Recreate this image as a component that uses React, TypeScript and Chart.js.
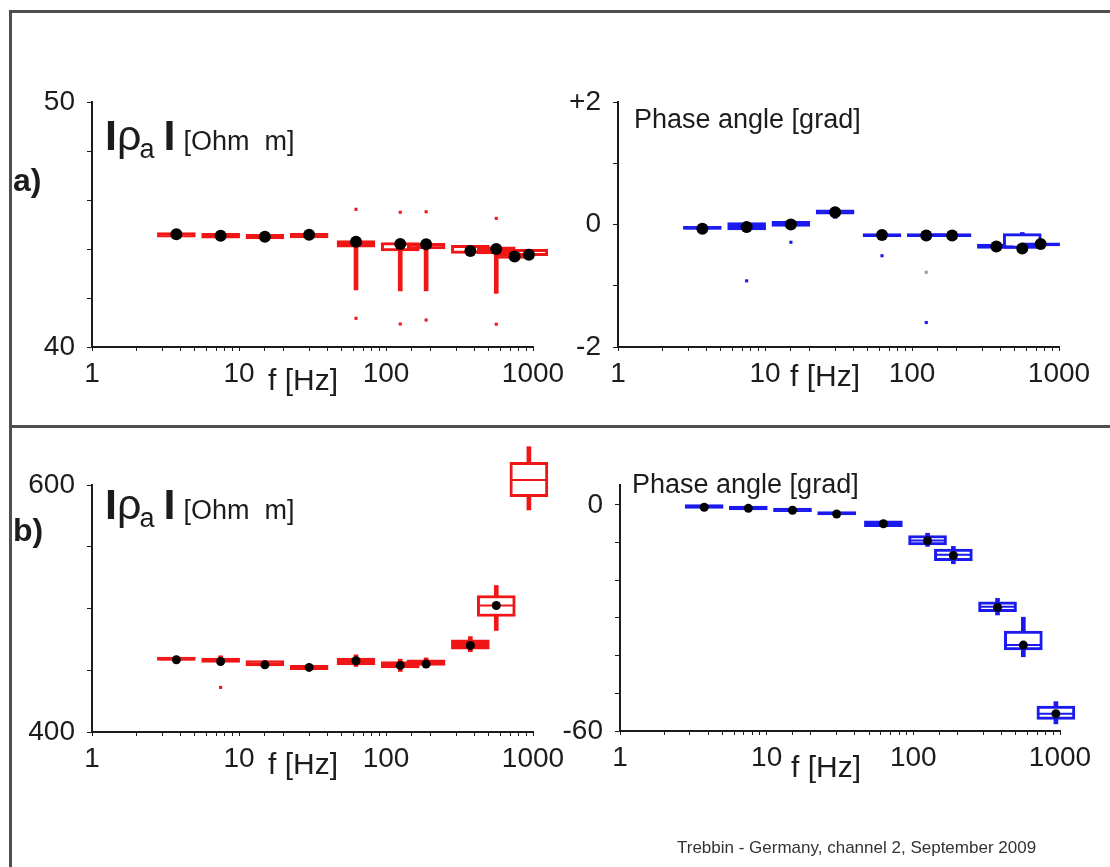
import React, { useEffect, useRef } from 'react';
import { Chart, registerables } from 'chart.js';

Chart.register(...registerables);

const W = 1110;
const H = 867;
const FONT = '"Liberation Sans", Arial, Helvetica, sans-serif';
const RED = '#f01616';
const BLUE = '#1a1aee';
const GREY = '#9a9a9a';
const INK = '#1c1c1c';
const FRAME = '#4f4f4f';

// ---- shared axis labels ----
const xTickLabels = [1, 10, 100, 1000];

// ---- a) apparent resistivity |rho_a| [Ohm m] ----
const rhoA_f = [3.75, 7.5, 15, 30, 62.5, 125, 187.5, 375, 562.5, 750, 937.5];
const rhoA_mean = [44.6, 44.54, 44.5, 44.58, 44.3, 44.2, 44.19, 43.92, 44.0, 43.69, 43.77];
const rhoA_median = [44.6, 44.55, 44.5, 44.58, 44.25, 44.2, 44.15, 44.08, 44.0, 43.72, 43.93];
const rhoA_q1 = [44.48, 44.44, 44.41, 44.45, 44.07, 43.92, 44.0, 43.82, 43.8, 43.62, 43.73];
const rhoA_q3 = [44.67, 44.64, 44.6, 44.64, 44.34, 44.26, 44.23, 44.15, 44.09, 43.8, 43.99];
const rhoA_wLo = [44.48, 44.44, 44.41, 44.45, 42.33, 42.29, 42.29, 43.82, 42.19, 43.62, 43.73];
const rhoA_wHi = [44.67, 44.64, 44.6, 44.64, 44.34, 44.26, 44.23, 44.15, 44.09, 43.8, 43.99];
const rhoA_open = [false, false, false, false, false, true, false, true, false, false, true];
const rhoA_outF = [62.5, 62.5, 125, 125, 187.5, 187.5, 562.5, 562.5];
const rhoA_outV = [45.62, 41.17, 45.5, 40.94, 45.52, 41.1, 45.25, 40.93];
const rhoA_yLabels: Record<string, string> = { '40': '40', '50': '50' };

// ---- a) phase angle [grad] ----
const phA_f = [3.75, 7.5, 15, 30, 62.5, 125, 187.5, 375, 562.5, 750];
const phA_mean = [-0.07, -0.04, 0.0, 0.2, -0.17, -0.18, -0.18, -0.36, -0.39, -0.32];
const phA_median = [-0.06, -0.03, 0.01, 0.2, -0.17, -0.17, -0.17, -0.36, -0.37, -0.32];
const phA_q1 = [-0.08, -0.09, -0.03, 0.17, -0.2, -0.2, -0.2, -0.39, -0.39, -0.35];
const phA_q3 = [-0.03, 0.03, 0.05, 0.24, -0.15, -0.15, -0.15, -0.32, -0.15, -0.3];
const phA_wLo = [-0.08, -0.12, -0.03, 0.1, -0.2, -0.2, -0.2, -0.39, -0.39, -0.35];
const phA_wHi = [-0.03, 0.03, 0.05, 0.24, -0.15, -0.15, -0.15, -0.32, -0.13, -0.3];
const phA_open = [false, false, false, false, false, false, false, false, true, false];
const phA_outF = [7.5, 15, 62.5, 125, 125, 562.5];
const phA_outV = [-0.92, -0.29, -0.51, -1.6, -0.78, -0.27];
const phA_outGrey = [false, false, false, false, true, true];
const phA_yLabels: Record<string, string> = { '2': '+2', '0': '0', '-2': '-2' };

// ---- b) apparent resistivity |rho_a| [Ohm m] ----
const rhoB_f = [3.75, 7.5, 15, 30, 62.5, 125, 187.5, 375, 562.5, 937.5];
const rhoB_mean = [458.5, 457.1, 454.4, 452.3, 457.7, 453.9, 455.0, 470.0, 502.4, 604.0];
const rhoB_median = [459.0, 458.0, 455.0, 452.0, 457.5, 454.0, 456.0, 471.0, 502.4, 604.0];
const rhoB_q1 = [457.9, 456.3, 453.6, 450.4, 454.4, 451.8, 453.9, 467.1, 493.5, 590.5];
const rhoB_q3 = [460.7, 459.9, 457.9, 453.9, 459.8, 457.1, 458.5, 474.6, 510.5, 618.4];
const rhoB_wLo = [457.9, 456.3, 453.6, 450.4, 453.0, 449.0, 453.0, 465.0, 482.2, 579.8];
const rhoB_wHi = [460.7, 461.7, 457.9, 453.9, 462.5, 459.0, 460.0, 477.3, 518.6, 631.0];
const rhoB_open = [false, false, false, false, false, false, false, false, true, true];
const rhoB_outF = [7.5];
const rhoB_outV = [436.1];
const rhoB_yLabels: Record<string, string> = { '400': '400', '600': '600' };

// ---- b) phase angle [grad] ----
const phB_f = [3.75, 7.5, 15, 30, 62.5, 125, 187.5, 375, 562.5, 937.5];
const phB_mean = [-0.6, -0.9, -1.4, -2.4, -5.0, -9.5, -13.4, -27.2, -37.2, -55.4];
const phB_median = [-0.5, -0.8, -1.3, -2.2, -5.0, -9.4, -13.2, -27.0, -37.2, -55.4];
const phB_q1 = [-0.9, -1.33, -1.77, -2.65, -5.75, -10.6, -14.8, -28.3, -38.5, -56.9];
const phB_q3 = [0.1, -0.27, -0.8, -1.77, -4.2, -8.1, -11.7, -25.7, -33.5, -53.4];
const phB_wLo = [-0.9, -1.6, -1.9, -2.65, -5.75, -11.0, -15.6, -29.2, -40.3, -58.1];
const phB_wHi = [0.1, -0.27, -0.5, -1.77, -4.2, -7.5, -11.0, -24.8, -29.8, -52.2];
const phB_open = [false, false, false, false, false, true, true, true, true, true];
const phB_outF: number[] = [];
const phB_outV: number[] = [];
const phB_yLabels: Record<string, string> = { '0': '0', '-60': '-60' };

// ---- layout of the four plot areas (pixels) ----
const Y_AXIS_W = 80;
const X_AXIS_H = 50;

type Panel = {
  id: string;
  f: number[]; mean: number[]; median: number[]; q1: number[]; q3: number[];
  wLo: number[]; wHi: number[]; open: boolean[];
  outF: number[]; outV: number[]; outGrey?: boolean[];
  color: string; dot: number;
  yMin: number; yMax: number; yStep: number; yLabels: Record<string, string>;
  area: { l: number; t: number; r: number; b: number };
};

const panels: Panel[] = [
  {
    id: 'rhoA', f: rhoA_f, mean: rhoA_mean, median: rhoA_median, q1: rhoA_q1, q3: rhoA_q3,
    wLo: rhoA_wLo, wHi: rhoA_wHi, open: rhoA_open, outF: rhoA_outF, outV: rhoA_outV,
    color: RED, dot: 6, yMin: 40, yMax: 50, yStep: 1, yLabels: rhoA_yLabels,
    area: { l: 92, t: 102, r: 533, b: 347 },
  },
  {
    id: 'phA', f: phA_f, mean: phA_mean, median: phA_median, q1: phA_q1, q3: phA_q3,
    wLo: phA_wLo, wHi: phA_wHi, open: phA_open, outF: phA_outF, outV: phA_outV, outGrey: phA_outGrey,
    color: BLUE, dot: 6, yMin: -2, yMax: 2, yStep: 1, yLabels: phA_yLabels,
    area: { l: 618, t: 102, r: 1059, b: 347 },
  },
  {
    id: 'rhoB', f: rhoB_f, mean: rhoB_mean, median: rhoB_median, q1: rhoB_q1, q3: rhoB_q3,
    wLo: rhoB_wLo, wHi: rhoB_wHi, open: rhoB_open, outF: rhoB_outF, outV: rhoB_outV,
    color: RED, dot: 4.5, yMin: 400, yMax: 600, yStep: 50, yLabels: rhoB_yLabels,
    area: { l: 92, t: 485, r: 533, b: 732 },
  },
  {
    id: 'phB', f: phB_f, mean: phB_mean, median: phB_median, q1: phB_q1, q3: phB_q3,
    wLo: phB_wLo, wHi: phB_wHi, open: phB_open, outF: phB_outF, outV: phB_outV,
    color: BLUE, dot: 4.5, yMin: -60, yMax: 5.3, yStep: 10, yLabels: phB_yLabels,
    area: { l: 620, t: 485, r: 1060, b: 731 },
  },
];

function buildConfig(p: Panel): any {
  const pts = (xs: number[], ys: number[]) => xs.map((x, i) => ({ x, y: ys[i] }));
  const spans = (xs: number[], lo: number[], hi: number[]) => xs.map((x, i) => ({ x, y: [lo[i], hi[i]] }));
  const tickFont = { family: FONT, size: 28 };
  return {
    type: 'scatter',
    data: {
      datasets: [
        // mean values (black dots, on top)
        {
          type: 'scatter', data: pts(p.f, p.mean), pointStyle: 'circle',
          pointRadius: p.dot, pointHoverRadius: p.dot,
          pointBackgroundColor: '#000', pointBorderColor: '#000', pointBorderWidth: 0, clip: false,
        },
        // medians
        {
          type: 'scatter', data: pts(p.f, p.median), pointStyle: 'line',
          pointRadius: 17, pointHoverRadius: 17,
          pointBorderColor: p.color, pointBorderWidth: 2, clip: false,
        },
        // interquartile boxes
        {
          type: 'bar', data: spans(p.f, p.q1, p.q3), barThickness: 38, grouped: false,
          backgroundColor: p.open.map((o) => (o ? '#ffffff' : p.color)),
          borderColor: p.color, borderWidth: 3, borderSkipped: false, clip: false,
        },
        // whiskers
        {
          type: 'bar', data: spans(p.f, p.wLo, p.wHi), barThickness: 4, grouped: false,
          backgroundColor: p.color, borderWidth: 0, clip: false,
        },
        // outliers
        {
          type: 'scatter', data: pts(p.outF, p.outV), pointStyle: 'rect',
          pointRadius: 2.2, pointHoverRadius: 2.2,
          pointBackgroundColor: p.outF.map((_, i) => (p.outGrey && p.outGrey[i] ? GREY : p.color)),
          pointBorderWidth: 0, clip: false,
        },
      ],
    },
    options: {
      responsive: false,
      animation: false,
      devicePixelRatio: 1,
      events: [],
      layout: {
        padding: {
          left: p.area.l - Y_AXIS_W,
          top: p.area.t,
          right: W - p.area.r,
          bottom: H - p.area.b - X_AXIS_H,
        },
      },
      plugins: { legend: { display: false }, tooltip: { enabled: false }, title: { display: false } },
      scales: {
        x: {
          type: 'logarithmic', min: 1, max: 1000, offset: false,
          grid: { display: true, offset: false, drawOnChartArea: false, drawTicks: true, tickLength: 4, color: INK, lineWidth: 1 },
          border: { display: true, color: INK, width: 2 },
          ticks: {
            autoSkip: false, maxRotation: 0, minRotation: 0, padding: 6, color: INK, font: tickFont,
            callback: (v: any) => {
              const n = Number(v);
              return xTickLabels.some((t) => Math.abs(t - n) < 1e-6) ? String(Math.round(n)) : '';
            },
          },
          afterFit: (s: any) => { s.height = X_AXIS_H; },
        },
        y: {
          type: 'linear', min: p.yMin, max: p.yMax,
          grid: { display: true, drawOnChartArea: false, drawTicks: true, tickLength: 5, color: INK, lineWidth: 1 },
          border: { display: true, color: INK, width: 2 },
          ticks: {
            stepSize: p.yStep, padding: 12, color: INK, font: tickFont,
            callback: (v: any) => p.yLabels[String(Math.round(Number(v)))] ?? '',
          },
          // tick marks at every whole step inside the axis range
          afterBuildTicks: (s: any) => {
            const ticks: { value: number }[] = [];
            const first = Math.ceil(p.yMin / p.yStep - 1e-9);
            const last = Math.floor(p.yMax / p.yStep + 1e-9);
            for (let k = first; k <= last; k++) ticks.push({ value: k * p.yStep });
            s.ticks = ticks;
          },
          afterFit: (s: any) => { s.width = Y_AXIS_W; },
        },
      },
    },
  };
}

function PanelChart({ panel }: { panel: Panel }) {
  const ref = useRef<HTMLCanvasElement>(null);
  useEffect(() => {
    if (!ref.current) return;
    const chart = new Chart(ref.current, buildConfig(panel));
    return () => chart.destroy();
  }, [panel]);
  return (
    <canvas
      ref={ref}
      width={W}
      height={H}
      style={{ position: 'absolute', left: 0, top: 0, width: W, height: H }}
    />
  );
}

// text placed by its baseline
function Txt({ x, y, size, weight = 400, sx = 1, color = INK, children }: any) {
  return (
    <div
      style={{
        position: 'absolute', left: x, top: y - 0.8465 * size, fontSize: size, lineHeight: 1,
        fontWeight: weight, whiteSpace: 'pre', color, fontFamily: FONT,
        transform: sx !== 1 ? `scaleX(${sx})` : undefined, transformOrigin: 'left top',
      }}
    >
      {children}
    </div>
  );
}

function RhoTitle({ x, y }: { x: number; y: number }) {
  return (
    <Txt x={x} y={y} size={43}>
      <span style={{ fontWeight: 700 }}>I</span>
      <span>ρ</span>
      <span style={{ fontSize: 27, position: 'relative', top: 8, marginLeft: -2 }}>a</span>
      <span style={{ fontWeight: 700, marginLeft: 9 }}>I</span>
      <span style={{ fontSize: 27, marginLeft: 8 }}>[Ohm  m]</span>
    </Txt>
  );
}

export default function App() {
  return (
    <div
      style={{
        position: 'absolute', left: 0, top: 0, width: W, height: H, background: '#fff',
        overflow: 'hidden', fontFamily: FONT, color: INK,
      }}
    >
      {/* frame */}
      <div style={{ position: 'absolute', left: 9, top: 10, width: W - 9, height: 3, background: FRAME }} />
      <div style={{ position: 'absolute', left: 9, top: 10, width: 3, height: H - 10, background: FRAME }} />
      <div style={{ position: 'absolute', left: 9, top: 425, width: W - 9, height: 3, background: FRAME }} />

      {panels.map((p) => (
        <PanelChart key={p.id} panel={p} />
      ))}

      <Txt x={13} y={191} size={32} weight={700}>a)</Txt>
      <Txt x={13} y={541} size={32} weight={700}>b)</Txt>

      <RhoTitle x={105} y={150} />
      <RhoTitle x={105} y={519} />

      <Txt x={634} y={129} size={27}>Phase angle [grad]</Txt>
      <Txt x={632} y={494} size={27}>Phase angle [grad]</Txt>

      <Txt x={268} y={390} size={30}>f [Hz]</Txt>
      <Txt x={790} y={386} size={30}>f [Hz]</Txt>
      <Txt x={268} y={774} size={30}>f [Hz]</Txt>
      <Txt x={791} y={777} size={30}>f [Hz]</Txt>

      <Txt x={677} y={853} size={17} color="#333">Trebbin - Germany, channel 2, September 2009</Txt>
    </div>
  );
}
